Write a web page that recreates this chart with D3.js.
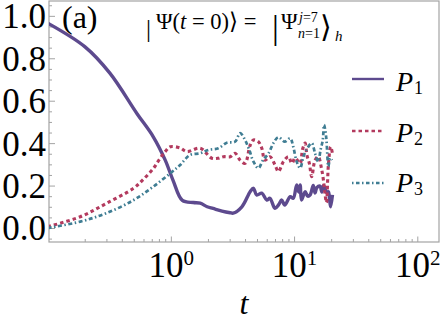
<!DOCTYPE html>
<html>
<head>
<meta charset="utf-8">
<script src="https://cdn.jsdelivr.net/npm/d3@7"></script>
<style>
  body { margin: 0; background: #fff; }
  svg { display: block; }
  svg text { font-family: 'Liberation Serif', 'Times New Roman', serif; }
</style>
</head>
<body>
<div id="chart"></div>
<script>
// time samples and populations
var tP1 = [0.1, 0.2, 0.32, 0.53, 0.72, 0.9, 1.04, 1.24, 1.52, 1.73, 1.97, 2.2, 2.6, 3.03, 3.2, 3.77, 4.4, 4.68, 4.97, 5.47, 6.0, 6.37, 7.0, 7.5, 7.93, 8.4, 9.3, 9.85, 10.5, 10.9, 11.2, 11.5, 12.3, 12.9, 13.5, 14.3, 14.8, 15.3, 16.2, 16.8, 17.3, 17.8, 18.4, 19.0, 19.4, 19.8, 20.5];
var p1  = [0.966, 0.855, 0.73, 0.54, 0.43, 0.32, 0.226, 0.13, 0.12, 0.117, 0.10, 0.092, 0.08, 0.072, 0.07, 0.1, 0.171, 0.187, 0.156, 0.164, 0.132, 0.14, 0.093, 0.11, 0.132, 0.108, 0.148, 0.14, 0.203, 0.17, 0.203, 0.132, 0.171, 0.15, 0.156, 0.2, 0.165, 0.19, 0.198, 0.17, 0.2, 0.19, 0.165, 0.171, 0.135, 0.1, 0.156];

var tP2 = [0.1, 0.184, 0.302, 0.497, 0.6, 0.72, 0.8, 0.9, 0.99, 1.19, 1.35, 1.73, 2.15, 2.43, 2.67, 3.03, 3.32, 3.65, 4.0, 4.4, 4.68, 5.13, 5.47, 5.8, 6.37, 7.0, 7.46, 8.2, 9.0, 9.6, 10.2, 11.2, 11.7, 12.3, 12.7, 13.3, 13.9, 14.8, 15.7, 16.7, 17.3, 17.8, 18.3, 19.0, 19.8, 20.5];
var p2  = [0.006, 0.053, 0.117, 0.187, 0.23, 0.28, 0.32, 0.36, 0.383, 0.377, 0.36, 0.376, 0.329, 0.329, 0.336, 0.336, 0.352, 0.32, 0.305, 0.39, 0.415, 0.407, 0.376, 0.32, 0.336, 0.297, 0.266, 0.313, 0.336, 0.305, 0.33, 0.305, 0.37, 0.4, 0.344, 0.305, 0.242, 0.32, 0.336, 0.28, 0.226, 0.164, 0.12, 0.30, 0.383, 0.35];

var tP3 = [0.1, 0.184, 0.30, 0.5, 0.72, 0.99, 1.19, 1.43, 1.73, 2.02, 2.43, 2.85, 3.32, 3.65, 4.0, 4.33, 4.68, 5.13, 5.6, 6.2, 6.8, 7.46, 8.4, 9.3, 9.85, 10.5, 11.2, 11.9, 12.6, 13.9, 14.8, 15.7, 16.4, 17.1, 17.5, 18.2, 19.0, 19.6, 20.3];
var p3  = [0.0, 0.03, 0.07, 0.132, 0.195, 0.258, 0.297, 0.344, 0.352, 0.368, 0.376, 0.402, 0.407, 0.447, 0.415, 0.368, 0.313, 0.282, 0.32, 0.352, 0.4, 0.428, 0.407, 0.423, 0.383, 0.313, 0.282, 0.336, 0.368, 0.4, 0.352, 0.313, 0.368, 0.415, 0.486, 0.43, 0.29, 0.33, 0.32];

var seriesNames = ['1', '2', '3'];
var yMajor = [0, 0.2, 0.4, 0.6, 0.8, 1.0];
var xMajor = [1, 10, 100];

var W = 443, H = 321;
var margin = {top: 1, left: 49, right: 4, bottom: 79};
var width = W - margin.left - margin.right;
var height = H - margin.top - margin.bottom;
var serif = "'Liberation Serif', 'Times New Roman', serif";

var colors = ['#5d4a8e', '#b33a5e', '#3f7d93'];
var dashes = [null, '3.5,3', '4,2.5,1.5,2.5'];
var legDashes = [null, '3.5,3', '1.5,2.5,3.5,2.5'];
var widths = [3.4, 3.1, 2.7];

var svg = d3.select('#chart').append('svg')
  .attr('width', W).attr('height', H)
  .style('font-family', serif);

var plot = svg.append('g')
  .attr('transform', 'translate(' + margin.left + ',' + margin.top + ')');

var x = d3.scaleLog().domain([0.1026, 150]).range([0, width]);
var y = d3.scaleLinear().domain([-0.066, 1.07]).range([height, 0]);

// minor ticks
var xMinor = [];
[0.1, 1, 10].forEach(function(d){
  for (var k = 1; k <= 9; k++) xMinor.push(d * k);
});
xMinor = xMinor.filter(function(v){ return v >= 0.1026 && v <= 150 && xMajor.indexOf(v) < 0; });
var yMinor = d3.range(-1, 22).map(function(i){ return +(i * 0.05).toFixed(2); })
  .filter(function(v){ return yMajor.indexOf(v) < 0; });

var tickColor = '#a3a3a3';

plot.append('g').attr('class', 'x-minor')
  .attr('transform', 'translate(0,' + height + ')')
  .call(d3.axisBottom(x).tickValues(xMinor).tickSize(-3).tickFormat(''));
plot.append('g').attr('class', 'x-major')
  .attr('transform', 'translate(0,' + height + ')')
  .call(d3.axisBottom(x).tickValues(xMajor).tickSize(-5.5).tickFormat(''));
plot.append('g').attr('class', 'y-minor')
  .call(d3.axisLeft(y).tickValues(yMinor).tickSize(-3).tickFormat(''));
plot.append('g').attr('class', 'y-major')
  .call(d3.axisLeft(y).tickValues(yMajor).tickSize(-6).tickPadding(3).tickFormat(d3.format('.1f')));

plot.selectAll('.domain').remove();
plot.selectAll('.x-minor, .x-major, .y-minor, .y-major').attr('font-family', null);
plot.selectAll('.tick line').attr('stroke', tickColor).attr('stroke-width', 1);

plot.selectAll('.y-major .tick text')
  .attr('font-size', '35px')
  .attr('fill', '#000')
  .attr('dy', '0.34em');

// x labels 10^n
plot.selectAll('.x-major .tick').each(function(d){
  var g = d3.select(this);
  g.select('text').remove();
  var t = g.append('text')
    .attr('y', 35)
    .attr('text-anchor', 'middle')
    .attr('fill', '#000')
    .attr('font-size', '35px');
  t.append('tspan').text('10');
  t.append('tspan').attr('font-size', '21px').attr('dy', '-12').text(Math.round(Math.log10(d)));
});

// frame
plot.append('rect')
  .attr('x', 0).attr('y', 0)
  .attr('width', width).attr('height', height)
  .attr('fill', 'none')
  .attr('stroke', tickColor)
  .attr('stroke-width', 1.2);

plot.append('clipPath').attr('id', 'clip')
  .append('rect').attr('width', width).attr('height', height);

var series = [
  {t: tP1, v: p1},
  {t: tP2, v: p2},
  {t: tP3, v: p3}
];

var line = d3.line()
  .x(function(d){ return x(d[0]); })
  .y(function(d){ return y(d[1]); })
  .curve(d3.curveCatmullRom.alpha(0.5));

var lines = plot.append('g').attr('clip-path', 'url(#clip)');
series.forEach(function(s, i){
  lines.append('path')
    .attr('d', line(d3.zip(s.t, s.v)))
    .attr('fill', 'none')
    .attr('stroke', colors[i])
    .attr('stroke-width', widths[i])
    .attr('stroke-dasharray', dashes[i])
    .attr('stroke-linejoin', 'round');
});

// legend
var legY = [79, 131, 183];
var legTxtY = [91, 142, 192];
var leg = svg.append('g');
seriesNames.forEach(function(n, i){
  leg.append('line')
    .attr('x1', 352).attr('x2', 384)
    .attr('y1', legY[i]).attr('y2', legY[i])
    .attr('stroke', colors[i])
    .attr('stroke-width', 2.4)
    .attr('stroke-dasharray', legDashes[i]);
  var t = leg.append('text')
    .attr('x', 396).attr('y', legTxtY[i])
    .attr('font-size', '28px');
  t.append('tspan').attr('font-style', 'italic').text('P');
  t.append('tspan').attr('font-size', '18px').attr('dy', '3').attr('dx', '1').text(n);
});

// panel tag and axis title
svg.append('text').attr('x', 62).attr('y', 28).attr('font-size', '32px').text('(a)');
svg.append('text').attr('x', 244).attr('y', 314)
  .attr('text-anchor', 'middle')
  .attr('font-size', '32px').attr('font-style', 'italic').text('t');

// initial state label
var f = svg.append('g').attr('font-size', '22.5px');
f.append('text').attr('x', 146).attr('y', 37).attr('font-size', '25px').text('|');
var t1 = f.append('text').attr('x', 156).attr('y', 29);
t1.append('tspan').text('Ψ(');
t1.append('tspan').attr('font-style', 'italic').text('t');
t1.append('tspan').text(' = 0)⟩ =');
f.append('text').attr('x', 272).attr('y', 39).attr('font-size', '34px').text('|');
f.append('text').attr('x', 281).attr('y', 29).text('Ψ');
var sup = f.append('text').attr('x', 299).attr('y', 22).attr('font-size', '14px');
sup.append('tspan').attr('font-style', 'italic').text('j');
sup.append('tspan').text('=7');
var sub = f.append('text').attr('x', 298).attr('y', 38).attr('font-size', '14px');
sub.append('tspan').attr('font-style', 'italic').text('n');
sub.append('tspan').text('=1');
f.append('text').attr('x', 320).attr('y', 37).attr('font-size', '30px').text('⟩');
f.append('text').attr('x', 335).attr('y', 41).attr('font-size', '15px').attr('font-style', 'italic').text('h');
</script>
</body>
</html>
